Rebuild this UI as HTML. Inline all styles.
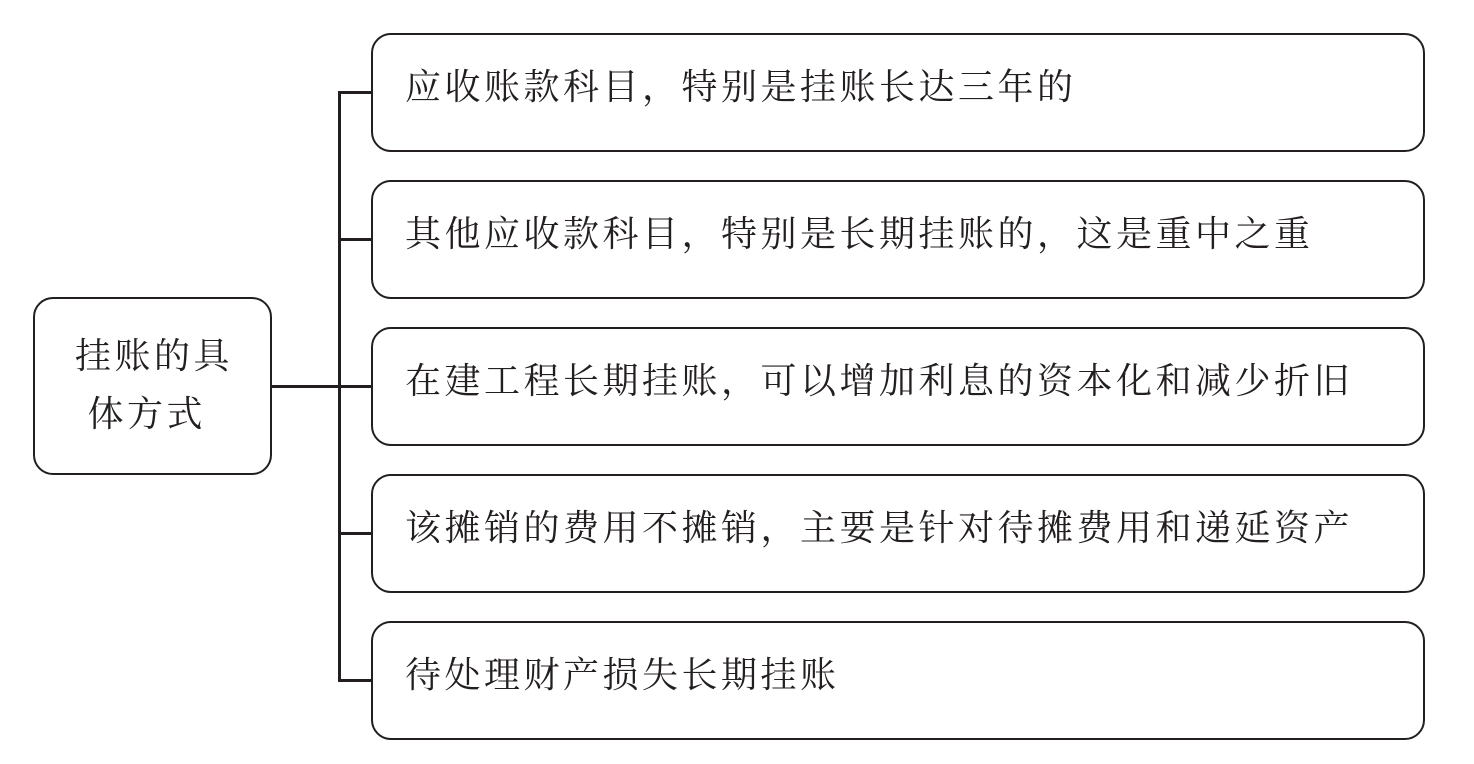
<!DOCTYPE html>
<html><head><meta charset="utf-8"><style>
body{margin:0;background:#fff;width:1474px;height:764px;position:relative;overflow:hidden;font-family:"Liberation Serif","Noto Serif CJK SC",serif;color:#231f20}
.b{position:absolute;border:2.5px solid #231f20;border-radius:20px;box-sizing:border-box;background:#fff}
.r{left:371px;width:1054px;height:119px;font-size:36px;letter-spacing:3.5px;line-height:36px;padding:34px 0 0 32px;white-space:nowrap}
.l{position:absolute;background:#231f20}
</style></head><body>
<div class="l" style="left:338px;top:91px;width:2.5px;height:591px"></div>
<div class="l" style="left:338px;top:91px;width:35px;height:2.5px"></div>
<div class="l" style="left:338px;top:238px;width:35px;height:2.5px"></div>
<div class="l" style="left:270px;top:385px;width:103px;height:2.5px"></div>
<div class="l" style="left:338px;top:532px;width:35px;height:2.5px"></div>
<div class="l" style="left:338px;top:679px;width:35px;height:2.5px"></div>
<div class="b" style="left:33px;top:297px;width:239px;height:178px;font-size:36px;letter-spacing:3.5px;line-height:58px;padding:28px 0 0 40px;white-space:nowrap">挂账的具<br>&nbsp;体方式</div>
<div class="b r" style="top:33px">应收账款科目，特别是挂账长达三年的</div>
<div class="b r" style="top:180px">其他应收款科目，特别是长期挂账的，这是重中之重</div>
<div class="b r" style="top:327px">在建工程长期挂账，可以增加利息的资本化和减少折旧</div>
<div class="b r" style="top:474px">该摊销的费用不摊销，主要是针对待摊费用和递延资产</div>
<div class="b r" style="top:621px">待处理财产损失长期挂账</div>
</body></html>
